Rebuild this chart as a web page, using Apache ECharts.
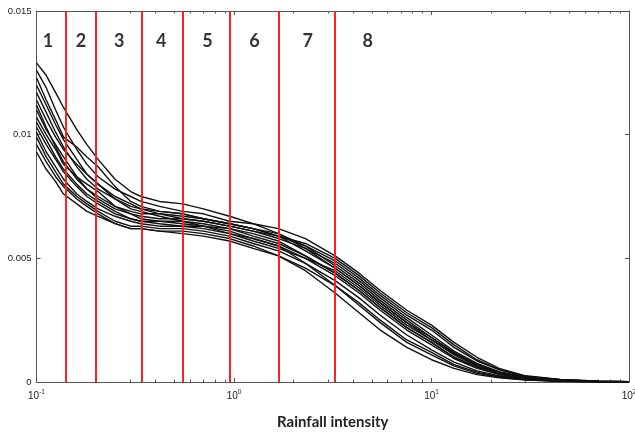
<!DOCTYPE html>
<html>
<head>
<meta charset="utf-8">
<script src="https://cdn.jsdelivr.net/npm/echarts@6/dist/echarts.min.js"></script>
<style>
html,body{margin:0;padding:0;background:#fff;}
#chart{width:635px;height:432px;}
</style>
</head>
<body>
<div id="chart"></div>
<script>
// Rainfall intensity sample points (log scale)
const xValues = [0.1,0.112,0.125,0.137,0.16,0.18,0.205,0.25,0.3,0.338,0.42,0.55,0.7,0.95,1.25,1.68,2.3,3.25,4.3,5.5,7.5,10,13,17,22,30,45,70,100];

// Curve values, in units of 1e-3
const curve1  = [12.9,12.4,11.7,11.1,10.2,9.6,9.0,8.2,7.7,7.5,7.3,7.2,7.0,6.7,6.4,6.0,5.4,4.6,3.9,3.2,2.4,1.7,1.15,0.7,0.4,0.2,0.08,0.03,0.01];
const curve2  = [12.6,11.9,11.0,10.3,9.4,8.8,8.3,7.8,7.5,7.3,7.1,6.9,6.8,6.5,6.4,6.2,5.8,5.1,4.4,3.7,2.9,2.3,1.6,1.0,0.55,0.25,0.1,0.03,0.01];
const curve3  = [12.3,11.4,10.6,9.9,9.5,9.1,8.7,7.9,7.3,7.1,6.9,6.8,6.6,6.4,6.2,5.9,5.5,4.9,4.2,3.5,2.7,2.1,1.4,0.85,0.5,0.22,0.09,0.03,0.01];
const curve4  = [11.7,10.9,10.1,9.5,8.7,8.2,7.8,7.4,7.1,7.0,6.8,6.6,6.5,6.3,6.1,5.8,5.4,4.8,4.1,3.4,2.6,1.9,1.25,0.75,0.42,0.19,0.07,0.02,0.005];
const curve5  = [11.4,10.6,9.9,9.4,8.8,8.4,8.0,7.4,7.0,6.9,6.7,6.5,6.4,6.2,5.9,5.6,5.1,4.4,3.7,3.0,2.2,1.6,1.0,0.6,0.33,0.15,0.06,0.02,0.005];
const curve6  = [11.2,10.3,9.5,8.9,8.2,7.8,7.5,7.1,6.9,6.8,6.8,6.7,6.6,6.4,6.2,6.0,5.5,4.7,4.0,3.3,2.5,1.8,1.15,0.7,0.38,0.17,0.07,0.02,0.005];
const curve7  = [10.7,10.0,9.4,8.8,8.3,8.0,7.7,7.1,6.8,6.6,6.5,6.4,6.3,6.1,5.8,5.5,5.0,4.3,3.6,2.9,2.1,1.5,0.95,0.55,0.3,0.13,0.05,0.02,0.005];
const curve8  = [10.3,9.6,9.0,8.5,7.9,7.5,7.2,6.8,6.6,6.5,6.5,6.5,6.3,6.0,5.7,5.4,5.0,4.5,3.8,3.1,2.3,1.7,1.1,0.65,0.35,0.15,0.06,0.02,0.005];
const curve9  = [10.1,9.3,8.7,8.2,7.6,7.3,7.0,6.7,6.5,6.4,6.3,6.3,6.3,6.2,6.0,5.7,5.1,4.4,3.7,3.0,2.2,1.6,1.0,0.6,0.32,0.14,0.05,0.02,0.005];
const curve10 = [9.9,9.1,8.5,8.0,7.5,7.2,6.9,6.5,6.3,6.3,6.2,6.2,6.1,5.9,5.6,5.3,4.8,4.1,3.4,2.7,1.9,1.3,0.8,0.45,0.25,0.11,0.04,0.01,0.005];
const curve11 = [9.6,8.9,8.3,7.9,7.4,7.1,6.8,6.4,6.2,6.2,6.1,6.1,6.0,5.8,5.5,5.1,4.6,3.9,3.2,2.5,1.7,1.2,0.7,0.4,0.22,0.1,0.04,0.01,0.005];
const curve12 = [9.3,8.6,8.1,7.6,7.2,6.9,6.7,6.4,6.2,6.2,6.1,6.0,5.9,5.7,5.4,5.1,4.5,3.6,2.8,2.1,1.4,0.9,0.55,0.3,0.17,0.08,0.03,0.01,0.005];
const curve13 = [11.0,10.2,9.6,9.1,8.3,7.8,7.4,7.0,6.8,6.7,6.6,6.6,6.5,6.3,6.1,5.9,5.6,5.0,4.3,3.6,2.8,2.2,1.5,0.9,0.5,0.22,0.09,0.03,0.01];
const curve14 = [10.5,9.8,9.1,8.6,8.0,7.6,7.3,6.9,6.6,6.5,6.4,6.3,6.2,6.0,5.8,5.5,4.8,3.9,3.1,2.4,1.6,1.1,0.65,0.35,0.2,0.09,0.03,0.01,0.005];
const curve15 = [12.0,11.2,10.4,9.8,9.0,8.4,8.0,7.5,7.2,7.0,6.9,6.8,6.6,6.4,6.2,5.9,5.3,4.6,3.9,3.2,2.4,1.8,1.2,0.7,0.38,0.17,0.07,0.02,0.005];
const curves = [curve1,curve2,curve3,curve4,curve5,curve6,curve7,curve8,curve9,curve10,curve11,curve12,curve13,curve14,curve15];
const UNIT = 1e-3;

// Class boundaries (red vertical lines)
const boundaries = [0.137,0.205,0.338,0.551,0.953,1.68,3.25];
// Class labels and their positions
const zoneNames = ['1','2','3','4','5','6','7','8'];
const zoneX = [0.1144,0.168,0.262,0.428,0.733,1.27,2.36,4.76];
const zoneY = 0.01376;

// Axis ticks
const xMajorTicks = [0.1,1,10,100];
const xExponent = {0.1:'-1',1:'0',10:'1',100:'2'};
const xMinorTicks = [0.2,0.3,0.4,0.5,0.6,0.7,0.8,0.9,2,3,4,5,6,7,8,9,20,30,40,50,60,70,80,90];
const yTicks = [0,0.005,0.01,0.015];

const axisColor = '#555';
const chart = echarts.init(document.getElementById('chart'), null, {renderer:'canvas'});

const logBase = {type:'log', logBase:10, min:0.1, max:100, gridIndex:0, splitLine:{show:false}};
const series = curves.map((c, k) => ({
  type:'line', xAxisIndex:0, yAxisIndex:0, showSymbol:false, symbol:'none',
  data: c.map((v,i) => [xValues[i], v*UNIT]),
  lineStyle:{color:'#111', width:1.4}, z:2, silent:true
}));
series.push({
  type:'line', xAxisIndex:0, yAxisIndex:0, data:[], silent:true,
  markLine:{symbol:'none', silent:true, label:{show:false},
    lineStyle:{color:'#ff2020', width:2, type:'solid'},
    data: boundaries.map(b => ({xAxis:b}))}, z:5
});
series.push({
  type:'scatter', xAxisIndex:0, yAxisIndex:0, symbolSize:0, silent:true, z:6,
  data: zoneNames.map((n,i) => ({value:[zoneX[i], zoneY], name:n})),
  label:{show:true, position:'inside', formatter:p=>p.name, fontFamily:'Lato', fontWeight:'bold', fontSize:18, color:'#000'}
});

chart.setOption({
  animation:false,
  backgroundColor:'#fff',
  grid:{left:36.5, right:6, top:11, bottom:50, containLabel:false, outerBoundsMode:'none'},
  xAxis:[
    Object.assign({}, logBase, {position:'bottom',
      axisLine:{show:true, lineStyle:{color:axisColor, width:1}},
      axisTick:{show:true, inside:true, length:4, lineStyle:{color:axisColor}, customValues:xMajorTicks},
      axisLabel:{show:true, margin:7, customValues:xMajorTicks,
        formatter:v => '{b|10}{s|' + xExponent[v] + '}',
        rich:{b:{fontFamily:'Liberation Sans', fontSize:10, color:'#222', lineHeight:12, verticalAlign:'bottom'},
              s:{fontFamily:'Liberation Sans', fontSize:6.5, color:'#222', lineHeight:12, verticalAlign:'top'}}},
      name:'Rainfall intensity', nameLocation:'middle', nameGap:33,
      nameTextStyle:{fontFamily:'Lato', fontWeight:'bold', fontSize:15, color:'#222'}}),
    Object.assign({}, logBase, {position:'bottom',
      axisLine:{show:false},
      axisTick:{show:true, inside:true, length:2.5, lineStyle:{color:axisColor}, customValues:xMinorTicks},
      axisLabel:{show:false}}),
    Object.assign({}, logBase, {position:'top',
      axisLine:{show:true, lineStyle:{color:axisColor, width:1}},
      axisTick:{show:true, inside:true, length:4, lineStyle:{color:axisColor}, customValues:xMajorTicks},
      axisLabel:{show:false}}),
    Object.assign({}, logBase, {position:'top',
      axisLine:{show:false},
      axisTick:{show:true, inside:true, length:2.5, lineStyle:{color:axisColor}, customValues:xMinorTicks},
      axisLabel:{show:false}})
  ],
  yAxis:[
    {type:'value', position:'left', min:0, max:0.015, interval:0.005, splitLine:{show:false},
      axisLine:{show:true, lineStyle:{color:axisColor, width:1}},
      axisTick:{show:true, inside:true, length:4, lineStyle:{color:axisColor}},
      axisLabel:{show:true, margin:5, fontFamily:'Liberation Sans', fontSize:9.5, color:'#222', customValues:yTicks}},
    {type:'value', position:'right', min:0, max:0.015, interval:0.005, splitLine:{show:false},
      axisLine:{show:true, lineStyle:{color:axisColor, width:1}},
      axisTick:{show:true, inside:true, length:4, lineStyle:{color:axisColor}},
      axisLabel:{show:false}}
  ],
  series: series
});
</script>
</body>
</html>
